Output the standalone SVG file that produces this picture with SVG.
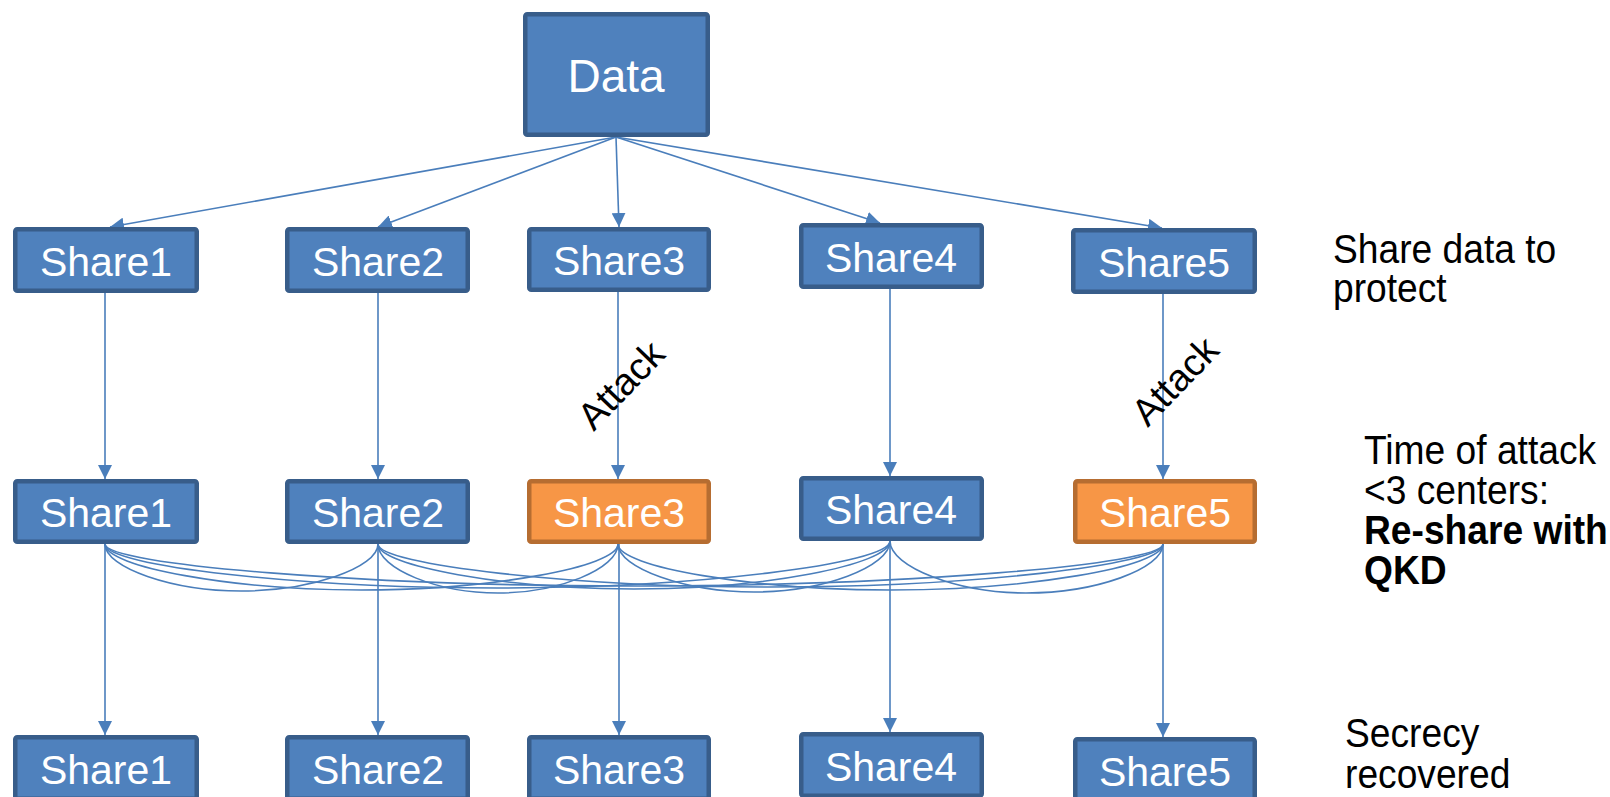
<svg xmlns="http://www.w3.org/2000/svg" width="1610" height="797" viewBox="0 0 1610 797">
  <style>
    .box { fill: #4F81BD; stroke: #385D8A; stroke-width: 4.5; }
    .hot { fill: #F79646; stroke: #B66D31; stroke-width: 4.5; }
    .lbl { font-family: "Liberation Sans", Arial, sans-serif; font-size: 41px; fill: #FFFFFF; text-anchor: middle; }
    .note { font-family: "Liberation Sans", Arial, sans-serif; font-size: 40px; fill: #000000; }
    .attack { font-family: "Liberation Sans", Arial, sans-serif; font-size: 38px; fill: #000000; text-anchor: middle; }
    .edge { fill: none; stroke: #4A7EBB; stroke-width: 1.6; }
    .arrow { marker-end: url(#head); }
  </style>
  <defs>
    <marker id="head" viewBox="0 0 14 14" markerWidth="14" markerHeight="14" refX="14" refY="7" orient="auto" markerUnits="userSpaceOnUse">
      <path d="M0,0 L14,7 L0,14 Z" fill="#4A7EBB"/>
    </marker>
  </defs>

  <rect width="1610" height="797" fill="#FFFFFF"/>

  <!-- connectors -->
  <g id="connectors">
    <!-- data split into five shares -->
    <path class="edge arrow" d="M616,137 L110,227"/>
    <path class="edge arrow" d="M616,137 L378,227"/>
    <path class="edge arrow" d="M616,137 L619,227"/>
    <path class="edge arrow" d="M616,137 L880,223"/>
    <path class="edge arrow" d="M616,137 L1162,228"/>
    <!-- shares carried to time of attack -->
    <path class="edge arrow" d="M105,293 L105,479"/>
    <path class="edge arrow" d="M378,293 L378,479"/>
    <path class="edge arrow" d="M618,292 L618,479"/>
    <path class="edge arrow" d="M890,289 L890,476"/>
    <path class="edge arrow" d="M1163,294 L1163,479"/>
    <!-- re-sharing mesh between centers -->
    <path class="edge" d="M105,544 C105,568 173,591 241,591 C310,591 378,568 378,544"/>
    <path class="edge" d="M105,544 C105,567 233,590 361,590 C490,590 618,567 618,544"/>
    <path class="edge" d="M105,544 C105,566 301,588 497,588 C694,588 890,564 890,541"/>
    <path class="edge" d="M105,544 C105,565 370,586 634,586 C899,586 1163,565 1163,544"/>
    <path class="edge" d="M378,544 C378,569 438,593 498,593 C558,593 618,569 618,544"/>
    <path class="edge" d="M378,544 C378,566 506,589 634,589 C762,589 890,565 890,541"/>
    <path class="edge" d="M378,544 C378,565 574,587 770,587 C967,587 1163,565 1163,544"/>
    <path class="edge" d="M618,544 C618,568 686,592 754,592 C822,592 890,567 890,541"/>
    <path class="edge" d="M618,544 C618,567 754,590 890,590 C1027,590 1163,567 1163,544"/>
    <path class="edge" d="M890,541 C890,567 958,593 1026,593 C1095,593 1163,569 1163,544"/>
    <!-- shares after recovery -->
    <path class="edge arrow" d="M105,544 L105,735"/>
    <path class="edge arrow" d="M378,544 L378,735"/>
    <path class="edge arrow" d="M619,544 L619,735"/>
    <path class="edge arrow" d="M890,541 L890,732"/>
    <path class="edge arrow" d="M1163,544 L1163,737"/>
    <!-- attack markers on the compromised links -->
    <text class="attack" transform="translate(621,385) rotate(-46)" x="0" y="13">Attack</text>
    <text class="attack" transform="translate(1175,381) rotate(-46)" x="0" y="13">Attack</text>
  </g>

  <!-- source -->
  <g id="data">
    <rect class="box" x="525.25" y="14.25" width="182.5" height="120.5" rx="2"/>
    <text x="616" y="92" font-family="Liberation Sans, Arial, sans-serif" font-size="46" fill="#FFFFFF" text-anchor="middle">Data</text>
  </g>

  <!-- initial shares -->
  <g id="share1-initial">
    <rect class="box" x="15.25" y="229.25" width="181.5" height="61.5" rx="2"/>
    <text class="lbl" x="106" y="276">Share1</text>
  </g>
  <g id="share2-initial">
    <rect class="box" x="287.25" y="229.25" width="180.5" height="61.5" rx="2"/>
    <text class="lbl" x="378" y="276">Share2</text>
  </g>
  <g id="share3-initial">
    <rect class="box" x="529.25" y="229.25" width="179.5" height="60.5" rx="2"/>
    <text class="lbl" x="619" y="275">Share3</text>
  </g>
  <g id="share4-initial">
    <rect class="box" x="801.25" y="225.25" width="180.5" height="61.5" rx="2"/>
    <text class="lbl" x="891" y="272">Share4</text>
  </g>
  <g id="share5-initial">
    <rect class="box" x="1073.25" y="230.25" width="181.5" height="61.5" rx="2"/>
    <text class="lbl" x="1164" y="277">Share5</text>
  </g>

  <!-- shares at time of attack -->
  <g id="share1-attack">
    <rect class="box" x="15.25" y="481.25" width="181.5" height="60.5" rx="2"/>
    <text class="lbl" x="106" y="527">Share1</text>
  </g>
  <g id="share2-attack">
    <rect class="box" x="287.25" y="481.25" width="180.5" height="60.5" rx="2"/>
    <text class="lbl" x="378" y="527">Share2</text>
  </g>
  <g id="share3-attack">
    <rect class="hot" x="529.25" y="481.25" width="179.5" height="60.5" rx="2"/>
    <text class="lbl" x="619" y="527">Share3</text>
  </g>
  <g id="share4-attack">
    <rect class="box" x="801.25" y="478.25" width="180.5" height="60.5" rx="2"/>
    <text class="lbl" x="891" y="524">Share4</text>
  </g>
  <g id="share5-attack">
    <rect class="hot" x="1075.25" y="481.25" width="179.5" height="60.5" rx="2"/>
    <text class="lbl" x="1165" y="527">Share5</text>
  </g>

  <!-- recovered shares -->
  <g id="share1-final">
    <rect class="box" x="15.25" y="737.25" width="181.5" height="61.5" rx="2"/>
    <text class="lbl" x="106" y="784">Share1</text>
  </g>
  <g id="share2-final">
    <rect class="box" x="287.25" y="737.25" width="180.5" height="61.5" rx="2"/>
    <text class="lbl" x="378" y="784">Share2</text>
  </g>
  <g id="share3-final">
    <rect class="box" x="529.25" y="737.25" width="179.5" height="61.5" rx="2"/>
    <text class="lbl" x="619" y="784">Share3</text>
  </g>
  <g id="share4-final">
    <rect class="box" x="801.25" y="734.25" width="180.5" height="61.5" rx="2"/>
    <text class="lbl" x="891" y="781">Share4</text>
  </g>
  <g id="share5-final">
    <rect class="box" x="1075.25" y="739.25" width="179.5" height="61.5" rx="2"/>
    <text class="lbl" x="1165" y="786">Share5</text>
  </g>

  <!-- stage notes -->
  <g id="note-share">
    <text class="note" transform="translate(1333,263) scale(0.93,1)">Share data to</text>
    <text class="note" transform="translate(1333,302) scale(0.93,1)">protect</text>
  </g>
  <g id="note-attack">
    <text class="note" transform="translate(1364,464) scale(0.93,1)">Time of attack</text>
    <text class="note" transform="translate(1364,504) scale(0.93,1)">&lt;3 centers:</text>
    <text class="note" font-weight="bold" transform="translate(1364,544) scale(0.93,1)">Re-share with</text>
    <text class="note" font-weight="bold" transform="translate(1364,584) scale(0.93,1)">QKD</text>
  </g>
  <g id="note-recovered">
    <text class="note" transform="translate(1345,747) scale(0.93,1)">Secrecy</text>
    <text class="note" transform="translate(1345,788) scale(0.93,1)">recovered</text>
  </g>
</svg>
